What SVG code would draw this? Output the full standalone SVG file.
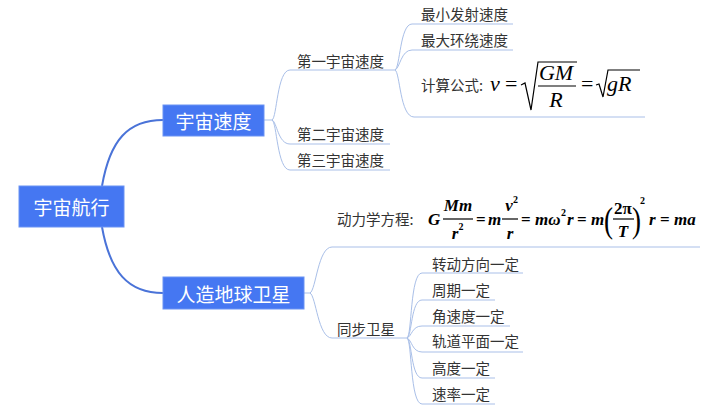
<svg xmlns="http://www.w3.org/2000/svg" width="712" height="414" viewBox="0 0 712 414">
<style>
.box{fill:#4577f2;stroke:#6b93f4;stroke-width:1}
.bt{font-family:"Noto Sans CJK SC","Noto Sans",sans-serif;font-size:19px;fill:#fff;text-anchor:middle;dominant-baseline:central}
.t{font-family:"Noto Sans CJK SC","Noto Sans",sans-serif;font-size:14.5px;fill:#333;dominant-baseline:central}
.main{fill:none;stroke:#4a73d8;stroke-width:2}
.thin{fill:none;stroke:#a9bfe8;stroke-width:1}
.m1{font-family:"Liberation Serif","Times New Roman",serif;font-size:22px;font-style:italic;fill:#000}
.m1u{font-family:"Liberation Serif","Times New Roman",serif;font-size:22px;fill:#000}
.m2{font-family:"Liberation Serif","Times New Roman",serif;font-size:17px;font-style:italic;font-weight:bold;fill:#000}
.m2u{font-family:"Liberation Serif","Times New Roman",serif;font-size:17px;font-weight:bold;fill:#000}
.sup{font-family:"Liberation Serif","Times New Roman",serif;font-size:10px;font-weight:bold;fill:#000}
.rule{stroke:#000;stroke-width:1.2;fill:none}
</style>
<g id="connectors">
<path class="main" d="M102,186 C110,140 128,120 163,120"/>
<path class="main" d="M102,227 C110,272 128,293 163,293"/>
<path class="thin" d="M264,120 H272 C277,118 277,70 290,70 H390"/>
<path class="thin" d="M272,120 C277,122 278,144 290,144 H390"/>
<path class="thin" d="M272,120 C277,122 277,170 290,170 H390"/>
<path class="thin" d="M390,70 H395 C400,68 400,24 412,24 H513"/>
<path class="thin" d="M395,70 C400,68 401,50 412,50 H513"/>
<path class="thin" d="M395,70 C400,72 400,117 414,117 H645"/>
<path class="thin" d="M304,293 H310 C316,290 318,247 332,247 H700"/>
<path class="thin" d="M310,293 C316,296 318,338 332,338 H403"/>
<path class="thin" d="M403,338 H407 C412,336 410,273 422,273 H523"/>
<path class="thin" d="M407,338 C412,336 411,300 422,300 H495"/>
<path class="thin" d="M407,338 C412,336 412,326 422,326 H510"/>
<path class="thin" d="M407,338 C412,340 412,352 422,352 H523"/>
<path class="thin" d="M407,338 C412,340 411,378 422,378 H495"/>
<path class="thin" d="M407,338 C412,340 410,404 422,404 H495"/>
</g>
<g id="root">
<rect class="box" x="19" y="186" width="105" height="41"/>
<text class="bt" x="71.5" y="206.5">宇宙航行</text>
</g>
<g id="n-speed">
<rect class="box" x="163" y="105" width="101" height="31"/>
<text class="bt" x="213.5" y="120.5">宇宙速度</text>
</g>
<g id="n-sat">
<rect class="box" x="163" y="277" width="141" height="32"/>
<text class="bt" x="233.5" y="293">人造地球卫星</text>
</g>
<g id="n-v1"><text class="t" x="297" y="60">第一宇宙速度</text></g>
<g id="n-v2"><text class="t" x="297" y="133">第二宇宙速度</text></g>
<g id="n-v3"><text class="t" x="297" y="159">第三宇宙速度</text></g>
<g id="n-min"><text class="t" x="421" y="13">最小发射速度</text></g>
<g id="n-max"><text class="t" x="421" y="39">最大环绕速度</text></g>
<g id="n-formula">
<text class="t" x="421" y="84">计算公式:</text>
<text class="m1" x="490" y="91">v</text>
<text class="m1u" x="505" y="91">=</text>
<polyline class="rule" points="521,85 525,83 531,110 538,62 577,62"/>
<text class="m1" x="556" y="80" text-anchor="middle">GM</text>
<line class="rule" x1="538" y1="86" x2="576" y2="86"/>
<text class="m1" x="556" y="107" text-anchor="middle">R</text>
<text class="m1u" x="581" y="91">=</text>
<polyline class="rule" points="596,85 599,84 603,97 608,70 640,70"/>
<text class="m1" x="607" y="91">gR</text>
</g>
<g id="n-dyn">
<text class="t" x="337" y="218">动力学方程:</text>
<text class="m2" x="428" y="225">G</text>
<text class="m2" x="458" y="211" text-anchor="middle">Mm</text>
<line class="rule" x1="443" y1="219" x2="473" y2="219"/>
<text class="m2" x="455" y="239" text-anchor="middle">r</text>
<text class="sup" x="458.5" y="230">2</text>
<text class="m2u" x="476" y="225">=</text>
<text class="m2" x="488" y="225">m</text>
<text class="m2" x="509" y="211" text-anchor="middle">v</text>
<text class="sup" x="513" y="203">2</text>
<line class="rule" x1="502" y1="219" x2="518" y2="219"/>
<text class="m2" x="510" y="239" text-anchor="middle">r</text>
<text class="m2u" x="521" y="225">=</text>
<text class="m2" x="535" y="225">mω</text>
<text class="sup" x="561" y="216">2</text>
<text class="m2" x="567" y="225">r</text>
<text class="m2u" x="577" y="225">=</text>
<text class="m2" x="591" y="225">m</text>
<text class="m1u" transform="translate(604,232) scale(0.75,1)" style="font-size:36px">(</text>
<text class="m2u" x="623" y="214" text-anchor="middle">2π</text>
<line class="rule" x1="613" y1="219" x2="634" y2="219"/>
<text class="m2" x="623" y="237" text-anchor="middle">T</text>
<text class="m1u" transform="translate(632,232) scale(0.75,1)" style="font-size:36px">)</text>
<text class="sup" x="640" y="204">2</text>
<text class="m2" x="649" y="225">r</text>
<text class="m2u" x="660" y="225">=</text>
<text class="m2" x="674" y="225">ma</text>
</g>
<g id="n-sync"><text class="t" x="337" y="328">同步卫星</text></g>
<g id="n-s1"><text class="t" x="432" y="263">转动方向一定</text></g>
<g id="n-s2"><text class="t" x="432" y="289">周期一定</text></g>
<g id="n-s3"><text class="t" x="432" y="315">角速度一定</text></g>
<g id="n-s4"><text class="t" x="432" y="340">轨道平面一定</text></g>
<g id="n-s5"><text class="t" x="432" y="367">高度一定</text></g>
<g id="n-s6"><text class="t" x="432" y="393">速率一定</text></g>
</svg>
